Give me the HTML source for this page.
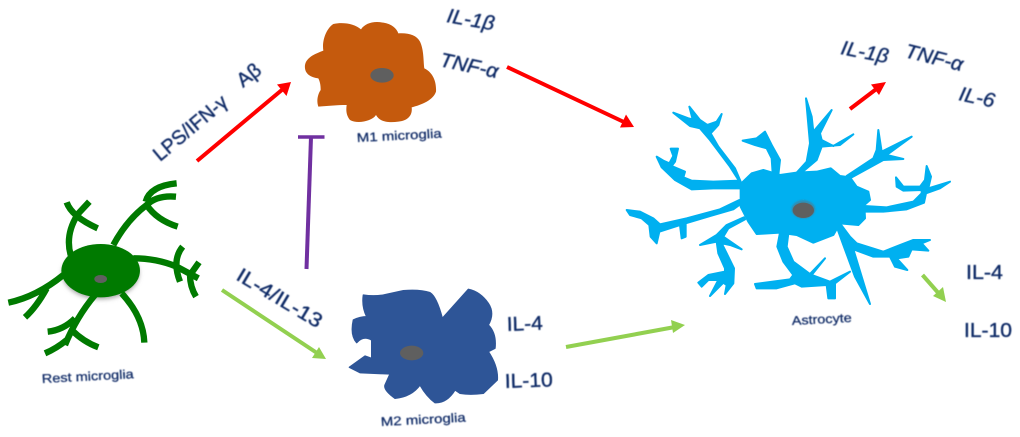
<!DOCTYPE html>
<html><head><meta charset="utf-8"><style>
html,body{margin:0;padding:0;background:#fff}
svg{display:block}
text{font-family:"Liberation Sans",sans-serif;fill:#0c2a66;stroke:#0c2a66;stroke-width:.35px}
.l{font-size:20px}
.s{font-size:12.5px;stroke-width:.25px}
</style></head><body>
<svg width="1020" height="437" viewBox="0 0 1020 437" xmlns="http://www.w3.org/2000/svg">
<defs>
<filter id="b"><feGaussianBlur stdDeviation="2.5"/></filter>
<filter id="b2" x="-30%" y="-30%" width="160%" height="160%"><feGaussianBlur stdDeviation="6"/></filter>
<filter id="t"><feGaussianBlur stdDeviation="0.4"/></filter>
</defs>

<!-- Rest microglia -->
<g transform="translate(0,160) scale(.33333)" filter="url(#t)">
<ellipse cx="302" cy="340" rx="116" ry="78" fill="#aaa" filter="url(#b2)"/>
<g fill="none" stroke="#067a06" stroke-width="19">
<path d="M212 285Q195 225 232 165M200 127Q215 170 293 205M268 125L228 168"/>
<path d="M340 255Q380 180 440 135M530 70Q450 78 437 125M528 110Q470 105 440 135Q470 180 533 200"/>
<path d="M400 295Q470 295 530 320L595 355M548 260Q515 300 540 365M597 307L570 345Q570 380 588 410"/>
<path d="M190 345Q110 410 25 428M140 385Q110 440 75 472"/>
<path d="M285 405Q230 470 195 555M143 515Q190 510 225 475M135 580Q170 565 200 540M215 510Q250 545 295 562"/>
<path d="M365 400Q430 470 433 548"/>
</g>
<ellipse cx="302" cy="332" rx="118" ry="80" fill="#067a06"/>
<ellipse cx="302" cy="357" rx="19" ry="12" fill="#5f5f5f"/>
</g>

<!-- M1 -->
<g transform="translate(290,0) scale(.33333)" filter="url(#t)">
<path fill="#c55a11" d="M45 195C50 170 80 160 100 152C95 120 110 85 130 72C160 65 195 72 213 88C225 70 250 62 280 68C305 72 320 85 325 100C355 98 380 105 390 125C402 150 400 185 403 205C425 215 440 240 438 275C430 300 395 315 365 322C368 345 355 362 325 365C300 368 270 368 258 345C245 365 200 372 180 360C168 345 168 330 170 315C140 315 110 318 85 320C78 300 85 280 92 270C92 255 90 245 85 235C60 232 42 220 45 195Z"/>
<ellipse cx="276" cy="226" rx="35" ry="22" fill="#5f5f5f"/>
</g>

<!-- M2 -->
<g transform="translate(340,280) scale(.33333)" filter="url(#t)">
<path fill="#2f5597" stroke="#2f5597" stroke-width="4" stroke-linejoin="round" d="M70 45Q100 50 130 45L190 32Q240 28 270 38Q290 50 307 115L385 28Q420 35 445 70Q465 100 445 135Q470 160 465 205L445 215Q475 260 472 300L430 340Q390 345 360 340L345 330Q320 370 285 368Q260 350 240 315Q215 350 165 355Q130 330 135 315L150 282L60 278L28 262L75 228L95 235L95 180Q70 165 50 188Q30 165 40 120Q60 110 80 110Q65 80 70 45Z"/>
<ellipse cx="215" cy="219" rx="35" ry="22" fill="#5f5f5f"/>
</g>

<!-- Astrocyte -->
<g transform="translate(620,90) scale(.33333)" filter="url(#t)">
<g fill="#00b0f0" stroke="#00b0f0" stroke-width="6" stroke-linejoin="round">
<path d="M362 282L395 250L430 240L480 255L530 248L590 245L632 235L660 258L690 262L710 290L745 305L750 330L733 345L735 385L715 405L660 400L640 435L580 458L530 435L480 428L410 432L385 395L362 350Z"/>
<path d="M365 285L330 230L270 150L240 115L210 108L160 68L205 85L218 88L208 50L240 90L262 105L290 95L305 72L295 105L272 130L295 170L345 235L362 275Z"/>
<path d="M360 295L280 295L215 298L165 270L125 232L110 200L130 212L148 220L160 198L152 176L174 176L165 215L155 228L195 245L190 262L215 272L280 275L360 272Z"/>
<path d="M358 330L300 358L200 385L120 403L100 385L60 365L20 360L30 375L65 385L88 405L92 440L110 460L118 425L180 405L185 445L197 440L197 400L270 378L340 358L358 345Z"/>
<path d="M372 382L320 405L290 435L240 465L290 455L295 490L315 535L315 545L265 555L235 578L245 590L265 570L295 570L270 618L310 578L320 585L315 612L340 580L342 535L320 490L305 460L330 465L365 478L310 440L325 415L375 388Z"/>
<path d="M475 255L480 210L455 165L435 125L410 145L368 152L405 165L440 175L455 205L458 250Z"/>
<path d="M530 248L560 215L570 160L558 25L575 80L580 125L635 60L600 130L605 150L640 168L700 133L660 165L605 170L590 210L545 248Z"/>
<path d="M680 258L760 205L770 180L775 120L785 185L875 140L800 195L850 207L790 210L695 262Z"/>
<path d="M733 348L800 352L880 335L905 310L905 300L850 302L830 290L828 262L850 290L900 290L915 270L920 228L933 260L925 295L990 275L960 295L918 310L912 338L860 358L790 365L735 365Z"/>
<path d="M660 400L690 440L710 460L790 485L840 465L880 450L930 450L905 460L925 482L875 478L865 500L830 505L862 540L825 530L810 500L760 500L700 478L750 642L705 560L670 465L650 410Z"/>
<path d="M480 428L472 470L490 515L520 555L510 568L405 582L410 595L470 595L525 580L545 590L620 585L625 625L645 625L645 580L690 545L630 575L575 555L615 505L570 552L520 515L500 470L505 430Z"/>
</g>
<ellipse cx="550" cy="358" rx="36" ry="28" fill="#2f8fb5" filter="url(#b)"/>
<ellipse cx="550" cy="361" rx="32" ry="23" fill="#5f5f5f"/>
</g>

<!-- Connectors -->
<g fill="none" stroke-width="4">
<path d="M197 161L283 89" stroke="#f00"/>
<path d="M507 67L626 123" stroke="#f00"/>
<path d="M850 109L879 87" stroke="#f00"/>
<path d="M222 290L317 353" stroke="#92d050"/>
<path d="M566 347L675 327" stroke="#92d050"/>
<path d="M922.500 275L941 296" stroke="#92d050"/>
<path d="M306.500 269L311 137" stroke="#7030a0"/>
<path d="M298 137H324.500" stroke="#7030a0" stroke-width="3.500"/>
</g>
<path fill="#f00" d="M291 82L286.500 96L277 84.500Z"/>
<path fill="#f00" d="M634 127L620 127.500L626 114.500Z"/>
<path fill="#f00" d="M886 82L879 95L871 84.500Z"/>
<path fill="#92d050" d="M326 359L312 358L319 347Z"/>
<path fill="#92d050" d="M685 325L673 333L671 320Z"/>
<path fill="#92d050" d="M946 302L933 296L943 287Z"/>

<!-- Labels -->
<g filter="url(#t)">
<text class="l" font-style="italic" transform="translate(446,22) rotate(10)" textLength="48" lengthAdjust="spacingAndGlyphs">IL-1β</text>
<text class="l" font-style="italic" transform="translate(439,66) rotate(12)" textLength="59" lengthAdjust="spacingAndGlyphs">TNF-α</text>
<text class="l" font-style="italic" transform="translate(840,54) rotate(11)" textLength="48" lengthAdjust="spacingAndGlyphs">IL-1β</text>
<text class="l" font-style="italic" transform="translate(904,57) rotate(14)" textLength="59" lengthAdjust="spacingAndGlyphs">TNF-α</text>
<text class="l" font-style="italic" transform="translate(958,100) rotate(12)" textLength="36" lengthAdjust="spacingAndGlyphs">IL-6</text>
<text class="l" transform="translate(507,331) rotate(-2)" textLength="36" lengthAdjust="spacingAndGlyphs">IL-4</text>
<text class="l" transform="translate(505,388) rotate(-2)" textLength="48" lengthAdjust="spacingAndGlyphs">IL-10</text>
<text class="l" x="966" y="279" textLength="37" lengthAdjust="spacingAndGlyphs">IL-4</text>
<text class="l" x="964" y="337" textLength="48" lengthAdjust="spacingAndGlyphs">IL-10</text>
<text class="l" transform="translate(160,162) rotate(-40)" textLength="90" lengthAdjust="spacingAndGlyphs">LPS/IFN-γ</text>
<text class="l" transform="translate(243,88) rotate(-38)" textLength="25" lengthAdjust="spacingAndGlyphs">Aβ</text>
<text class="l" transform="translate(235,279) rotate(31)" textLength="96" lengthAdjust="spacingAndGlyphs">IL-4/IL-13</text>
<text class="s" transform="translate(357,142) rotate(-3)" textLength="85" lengthAdjust="spacingAndGlyphs">M1 microglia</text>
<text class="s" transform="translate(42,383) rotate(-3)" textLength="92" lengthAdjust="spacingAndGlyphs">Rest microglia</text>
<text class="s" transform="translate(381,426) rotate(-3)" textLength="85" lengthAdjust="spacingAndGlyphs">M2 microglia</text>
<text class="s" transform="translate(792,325) rotate(-3)" textLength="60" lengthAdjust="spacingAndGlyphs">Astrocyte</text>
</g>
</svg>
</body></html>
